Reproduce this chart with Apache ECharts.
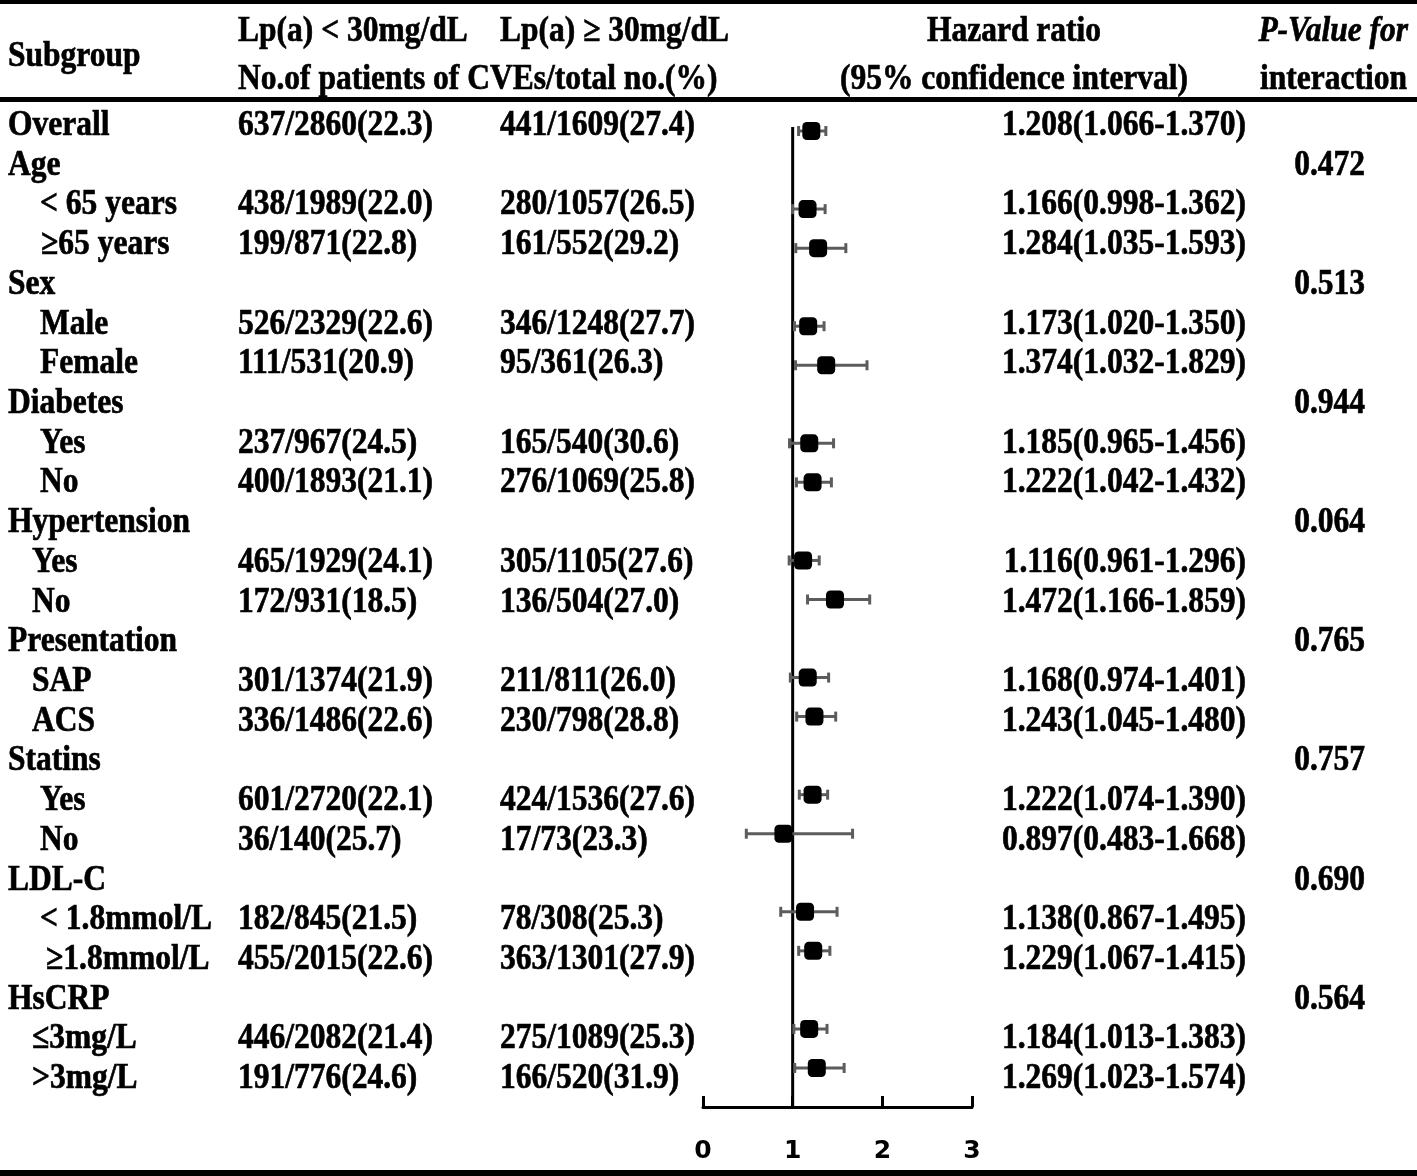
<!DOCTYPE html>
<html><head><meta charset="utf-8">
<script src="https://cdn.jsdelivr.net/npm/echarts@6/dist/echarts.min.js"></script>
<style>html,body{margin:0;padding:0;background:#fff}#c{width:1417px;height:1176px}</style>
</head><body><div id="c"></div>
<script>
const subgroups = ['Overall','Age','< 65 years','\u226565 years','Sex','Male','Female','Diabetes','Yes','No','Hypertension','Yes','No','Presentation','SAP','ACS','Statins','Yes','No','LDL-C','< 1.8mmol/L','\u22651.8mmol/L','HsCRP','\u22643mg/L','>3mg/L'];
const indentPx = [0,0,32,33,0,32,32,0,32,32,0,24,24,0,24,24,0,32,32,0,32,38,0,24,24];
const lowGroup = ['637/2860(22.3)','','438/1989(22.0)','199/871(22.8)','','526/2329(22.6)','111/531(20.9)','','237/967(24.5)','400/1893(21.1)','','465/1929(24.1)','172/931(18.5)','','301/1374(21.9)','336/1486(22.6)','','601/2720(22.1)','36/140(25.7)','','182/845(21.5)','455/2015(22.6)','','446/2082(21.4)','191/776(24.6)'];
const highGroup = ['441/1609(27.4)','','280/1057(26.5)','161/552(29.2)','','346/1248(27.7)','95/361(26.3)','','165/540(30.6)','276/1069(25.8)','','305/1105(27.6)','136/504(27.0)','','211/811(26.0)','230/798(28.8)','','424/1536(27.6)','17/73(23.3)','','78/308(25.3)','363/1301(27.9)','','275/1089(25.3)','166/520(31.9)'];
const hr = [1.208,null,1.166,1.284,null,1.173,1.374,null,1.185,1.222,null,1.116,1.472,null,1.168,1.243,null,1.222,0.897,null,1.138,1.229,null,1.184,1.269];
const ciLow = [1.066,null,0.998,1.035,null,1.020,1.032,null,0.965,1.042,null,0.961,1.166,null,0.974,1.045,null,1.074,0.483,null,0.867,1.067,null,1.013,1.023];
const ciHigh = [1.370,null,1.362,1.593,null,1.350,1.829,null,1.456,1.432,null,1.296,1.859,null,1.401,1.480,null,1.390,1.668,null,1.495,1.415,null,1.383,1.574];
const pInteraction = ['','0.472','','','0.513','','','0.944','','','0.064','','','0.765','','','0.757','','','0.690','','','0.564','',''];
const xTicks = [0,1,2,3];

const FONT = 'bold 31.5px "Liberation Serif", "Times New Roman", serif';
const SY = 1.12;
const chart = echarts.init(document.getElementById('c'), null, {renderer:'canvas'});

function mkText(xPos, texts, align, xOffsets){
  const data = texts.map((t,i)=>({value:[xPos + (xOffsets? xOffsets[i]:0), i], label:t})).filter(d=>d.label!=='');
  return {
    type:'custom', xAxisIndex:1, yAxisIndex:1, silent:true, z:5, data,
    renderItem:(params, api)=>{
      const p = api.coord([api.value(0), api.value(1)]);
      return {type:'text', x:p[0], y:p[1]+2, scaleY:SY,
        style:{text: data[params.dataIndex].label, x:0, y:0, textAlign:align, textVerticalAlign:'middle', font:FONT, fill:'#000', stroke:'#000', lineWidth:0.6}};
    }
  };
}
function hdr(text, x, y, align, italic){
  return {type:'text', x:x, y:y, scaleY:SY, style:{text, x:0, y:0, textAlign:align||'left', textVerticalAlign:'middle', font:(italic?'italic ':'')+FONT, fill:'#000', stroke:'#000', lineWidth:0.6}};
}

const hrText = hr.map((v,i)=> v==null ? '' : v.toFixed(3)+'('+ciLow[i].toFixed(3)+'-'+ciHigh[i].toFixed(3)+')');
const ciData = hr.map((v,i)=> v==null ? null : [ciLow[i], ciHigh[i], i]).filter(d=>d);
const pointData = hr.map((v,i)=> v==null ? null : [v, i]).filter(d=>d);

const option = {
  animation:false,
  grid:[
    {left:703, right:445, top:111.5, bottom:69},
    {left:0, right:0, top:104.1, bottom:79.1}
  ],
  xAxis:[
    {type:'value', gridIndex:0, min:0, max:3, interval:1, position:'bottom',
     axisLine:{show:true, onZero:false, lineStyle:{color:'#000', width:3}},
     axisTick:{show:true, inside:true, length:11, lineStyle:{color:'#000', width:3}},
     axisLabel:{show:true, margin:32, color:'#000', fontFamily:'DejaVu Sans', fontWeight:'bold', fontSize:25,
       formatter:(v)=> xTicks.includes(v) ? String(v) : ''},
     splitLine:{show:false}},
    {type:'value', gridIndex:1, min:0, max:1417, show:false}
  ],
  yAxis:[
    {type:'value', gridIndex:0, min:-0.5, max:25, inverse:true, show:false},
    {type:'value', gridIndex:1, min:-0.5, max:24.5, inverse:true, show:false}
  ],
  graphic:[
    {type:'rect', shape:{x:0,y:0,width:1417,height:4}, style:{fill:'#000'}},
    {type:'rect', shape:{x:0,y:97,width:1417,height:5}, style:{fill:'#000'}},
    {type:'rect', shape:{x:0,y:1170,width:1417,height:6}, style:{fill:'#000'}},
    hdr('Subgroup', 8, 57),
    hdr('Lp(a) < 30mg/dL', 238, 32),
    hdr('Lp(a) \u2265 30mg/dL', 500, 32),
    hdr('No.of patients of CVEs/total no.(%)', 238, 80),
    hdr('Hazard ratio', 1014, 32, 'center'),
    hdr('(95% confidence interval)', 1014, 80, 'center'),
    hdr('P-Value for', 1408, 32, 'right', true),
    hdr('interaction', 1407, 80, 'right')
  ],
  series:[
    {type:'line', xAxisIndex:0, yAxisIndex:0, data:[[1,-0.1],[1,25]], symbol:'none', silent:true, z:1,
     lineStyle:{color:'#000', width:3}},
    {type:'custom', xAxisIndex:0, yAxisIndex:0, silent:true, z:2, data:ciData,
     renderItem:(params, api)=>{
       const a = api.coord([api.value(0), api.value(2)]);
       const b = api.coord([api.value(1), api.value(2)]);
       const st = {stroke:'#5c5c5c', lineWidth:3};
       return {type:'group', children:[
         {type:'line', shape:{x1:a[0], y1:a[1], x2:b[0], y2:b[1]}, style:st},
         {type:'line', shape:{x1:a[0], y1:a[1]-5, x2:a[0], y2:a[1]+5}, style:st},
         {type:'line', shape:{x1:b[0], y1:b[1]-5, x2:b[0], y2:b[1]+5}, style:st}
       ]};
     }},
    {type:'scatter', xAxisIndex:0, yAxisIndex:0, data:pointData, symbol:'roundRect', symbolSize:18, silent:true, z:3,
     itemStyle:{color:'#000', opacity:1}},
    mkText(8, subgroups, 'left', indentPx),
    mkText(238, lowGroup, 'left'),
    mkText(500, highGroup, 'left'),
    mkText(1246, hrText, 'right'),
    mkText(1365, pInteraction, 'right')
  ]
};
chart.setOption(option);
</script>
</body></html>
